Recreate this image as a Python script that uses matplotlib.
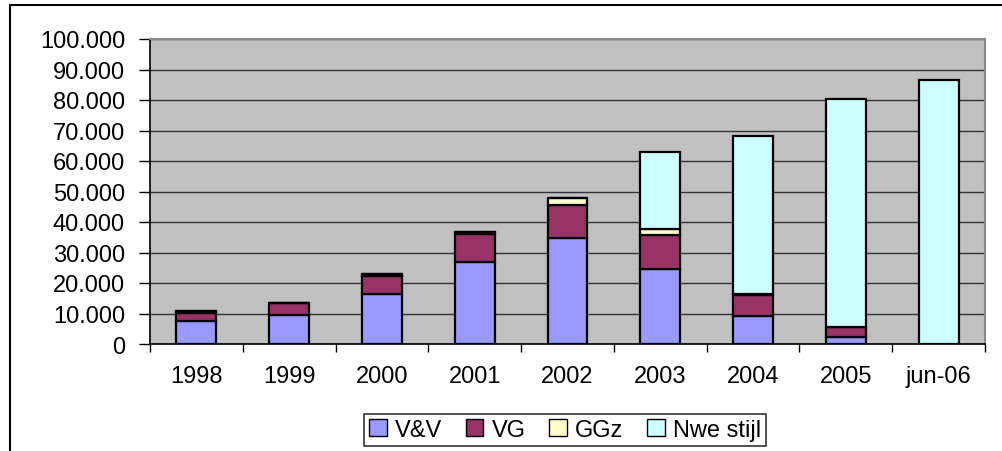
import matplotlib
matplotlib.use("Agg")
import matplotlib.pyplot as plt
import numpy as np
from matplotlib.ticker import FuncFormatter, MultipleLocator
from matplotlib.patches import Rectangle

plt.rcParams['font.family'] = ['Liberation Sans', 'DejaVu Sans']

# data
jaren = ["1998", "1999", "2000", "2001", "2002", "2003", "2004", "2005", "jun-06"]
vv = [7500, 9600, 16400, 26800, 34600, 24600, 9300, 2200, 0]
vg = [2800, 3800, 6000, 9300, 11100, 11100, 6800, 3300, 0]
ggz = [400, 0, 500, 600, 2200, 2000, 300, 0, 0]
nwe = [0, 0, 0, 0, 0, 25100, 51800, 74800, 86700]

series = [("V&V", vv, "#9999FF"),
          ("VG", vg, "#993366"),
          ("GGz", ggz, "#FFFFCC"),
          ("Nwe stijl", nwe, "#CCFFFF")]

fig = plt.figure(figsize=(10.02, 4.52), dpi=100)
ax = fig.add_axes([150 / 1002, 1 - 345 / 452, 835 / 1002, 305 / 452])

# outer chart frame (runs off right/bottom edge like in original)
fig.patches.append(Rectangle((10 / 1002, -0.1), 1.2, (452 - 6) / 452 + 0.1,
                             transform=fig.transFigure, fill=False,
                             edgecolor="black", linewidth=1.5, zorder=0))

x = np.arange(len(jaren))
bottom = np.zeros(len(jaren))
for naam, waarden, kleur in series:
    w = np.array(waarden, dtype=float)
    ax.bar(x, w, 0.43, bottom=bottom, color=kleur, edgecolor="black",
           linewidth=1.6, label=naam, zorder=3)
    bottom += w

ax.set_facecolor("#C0C0C0")
ax.set_xlim(-0.5, len(jaren) - 0.5)
ax.set_ylim(0, 100000)
ax.yaxis.set_major_locator(MultipleLocator(10000))
ax.yaxis.set_major_formatter(FuncFormatter(lambda v, p: f"{int(v):,}".replace(",", ".")))
ax.grid(axis="y", color="#333333", linewidth=1.0, zorder=1)

ax.set_xticks(x)
ax.set_xticklabels(jaren)
ax.set_xticks(np.arange(-0.5, len(jaren)), minor=True)
ax.tick_params(axis="x", which="major", length=0, pad=15, labelsize=17)
ax.tick_params(axis="x", which="minor", length=6, width=1, direction="out")
ax.tick_params(axis="y", length=8, width=1, pad=10, labelsize=17)

for kant in ["top", "right"]:
    ax.spines[kant].set_color("#888888")
    ax.spines[kant].set_linewidth(1.5)
for kant in ["left", "bottom"]:
    ax.spines[kant].set_color("black")
    ax.spines[kant].set_linewidth(1.2)

leg = ax.legend(loc="center", bbox_to_anchor=(565 / 1002, 1 - 431 / 452),
                bbox_transform=fig.transFigure, ncol=4, fontsize=17,
                frameon=True, fancybox=False, edgecolor="black",
                handlelength=0.75, handleheight=0.75, handletextpad=0.35,
                columnspacing=1.0, borderpad=0.2)
leg.get_frame().set_linewidth(1.2)
for h in leg.legend_handles:
    h.set_linewidth(1.0)

fig.savefig("out.png", dpi=100)
